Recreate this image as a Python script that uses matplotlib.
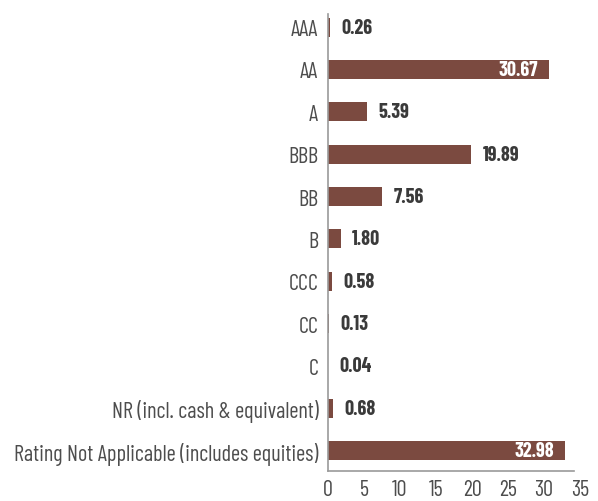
import matplotlib
matplotlib.use("Agg")
import matplotlib.pyplot as plt

# Fonte condensada, parecida com a original
plt.rcParams['font.family'] = ['Barlow Condensed', 'Open Sans', 'DejaVu Sans']

# Dados
categorias = ["AAA", "AA", "A", "BBB", "BB", "B", "CCC", "CC", "C",
              "NR (incl. cash & equivalent)",
              "Rating Not Applicable (includes equities)"]
valores = [0.26, 30.67, 5.39, 19.89, 7.56, 1.80, 0.58, 0.13, 0.04, 0.68, 32.98]
rotulos = ["0.26", "30.67", "5.39", "19.89", "7.56", "1.80", "0.58", "0.13", "0.04", "0.68", "32.98"]
xticks = [0, 5, 10, 15, 20, 25, 30, 35]

cor_barra = "#7b4a40"
cor_eixo = "#9a9a9a"
cor_texto = "#4d4d4d"

fig = plt.figure(figsize=(5.98, 5.02), dpi=100)
ax = fig.add_axes([328/598, 1 - 472/502, (580 - 328)/598, (472 - 15)/502])

pos = list(range(len(categorias)))
ax.barh(pos, valores, height=0.45, color=cor_barra)

ax.set_ylim(10.48, -0.31)
ax.set_xlim(0, 35)
ax.set_yticks(pos)
ax.set_yticklabels(categorias, fontsize=16, color=cor_texto)
ax.set_xticks(xticks)
ax.set_xticklabels([str(t) for t in xticks], fontsize=16, color=cor_texto)
ax.tick_params(axis='both', length=0)
ax.tick_params(axis='y', pad=7)
ax.tick_params(axis='x', pad=6)

for s in ["top", "right"]:
    ax.spines[s].set_visible(False)
ax.spines["left"].set_color(cor_eixo)
ax.spines["bottom"].set_color(cor_eixo)
ax.spines["left"].set_linewidth(1.2)
ax.spines["bottom"].set_linewidth(1.2)
ax.spines["bottom"].set_bounds(0, 34.1)

# rótulos de valores
for y, v, r in zip(pos, valores, rotulos):
    if v > 25:
        ax.annotate(r, (v, y), xytext=(-8, 0), textcoords="offset points",
                    ha="right", va="center", fontsize=14.5, fontweight="bold", color="white")
    else:
        ax.annotate(r, (v, y), xytext=(8, 0), textcoords="offset points",
                    ha="left", va="center", fontsize=14.5, fontweight="bold", color="#3a3a3a")

fig.savefig("out.png", dpi=100)
